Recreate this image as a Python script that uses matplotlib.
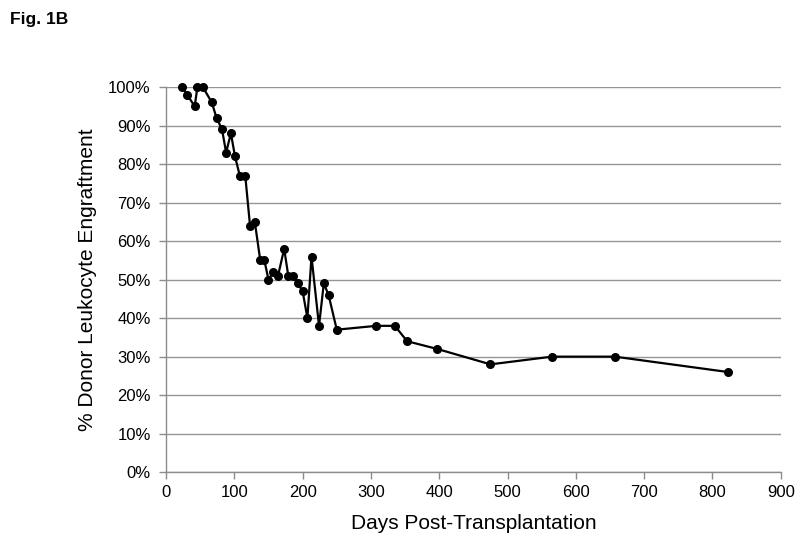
import matplotlib
matplotlib.use("Agg")
import matplotlib.pyplot as plt
from matplotlib.ticker import PercentFormatter

days = [24, 31, 42, 46, 54, 67, 74, 82, 88, 95, 101, 108, 116,
        123, 130, 138, 144, 150, 157, 164, 173, 179, 186, 193, 200,
        207, 213, 224, 231, 238, 250, 308, 335, 353, 397, 475, 565, 657, 823]
engraftment = [100, 98, 95, 100, 100, 96, 92, 89, 83, 88, 82, 77, 77,
               64, 65, 55, 55, 50, 52, 51, 58, 51, 51, 49, 47,
               40, 56, 38, 49, 46, 37, 38, 38, 34, 32, 28, 30, 30, 26]
x_ticks = list(range(0, 901, 100))
y_ticks = list(range(0, 101, 10))

plt.rcParams['font.family'] = ['Liberation Sans', 'DejaVu Sans']

fig = plt.figure(figsize=(8, 5.44), dpi=100)
ax = fig.add_axes([0.2075, 0.132, 0.7685, 0.708])

ax.plot(days, engraftment, color='black', lw=1.6, marker='o', ms=5.5, zorder=3, clip_on=False)

ax.set_xlim(0, 900)
ax.set_ylim(0, 100)
ax.set_xticks(x_ticks)
ax.set_yticks(y_ticks)
ax.yaxis.set_major_formatter(PercentFormatter(decimals=0))
ax.grid(axis='y', color='#959595', lw=1)
ax.set_axisbelow(True)
for s in ['top', 'right']:
    ax.spines[s].set_visible(False)
for s in ['left', 'bottom']:
    ax.spines[s].set_color('#8c8c8c')
    ax.spines[s].set_linewidth(1)
ax.tick_params(axis='both', colors='#8c8c8c', labelcolor='black', labelsize=12, length=5, width=1)
ax.tick_params(axis='y', pad=6)
ax.tick_params(axis='x', pad=4)

ax.set_xlabel('Days Post-Transplantation', fontsize=15, labelpad=10)
ax.set_ylabel('% Donor Leukocyte Engraftment', fontsize=15, labelpad=8)

fig.text(0.012, 0.978, 'Fig. 1B', fontsize=12.5, fontweight='bold', va='top', ha='left')

fig.savefig('out.png', dpi=100)
